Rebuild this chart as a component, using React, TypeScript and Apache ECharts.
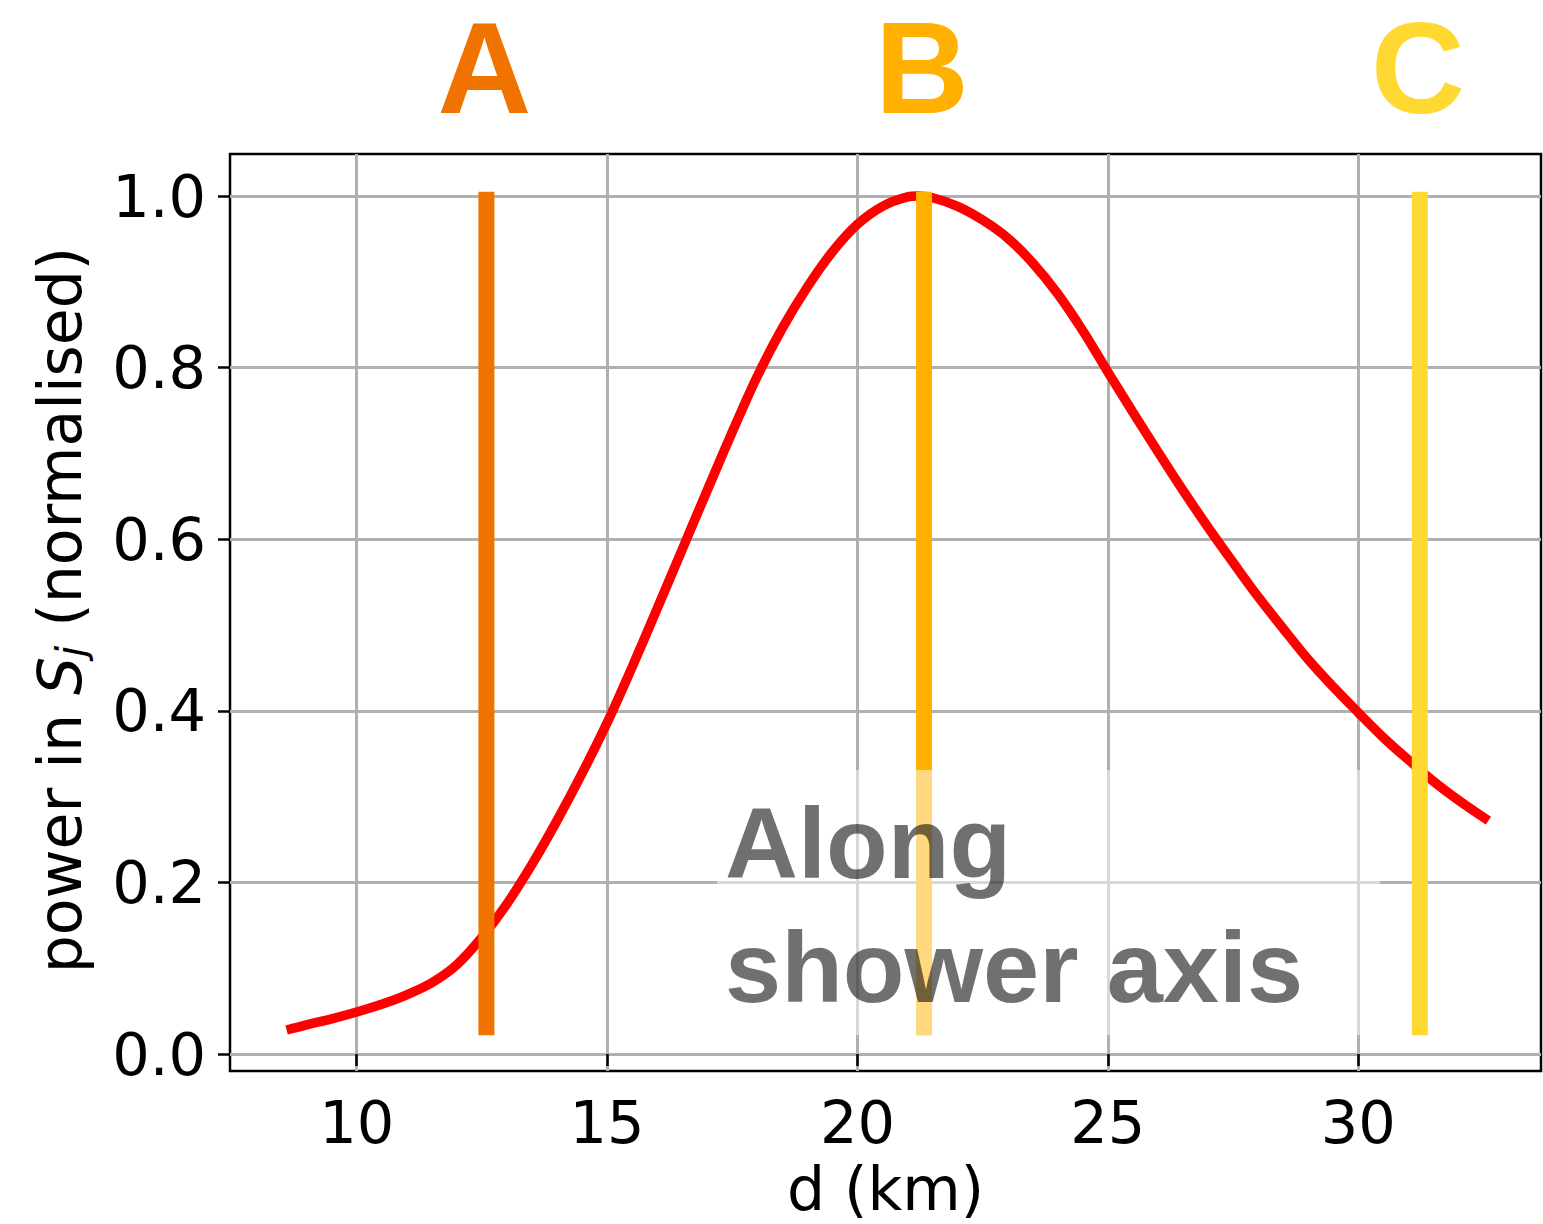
import React, { useEffect, useRef } from "react";
import * as echarts from "echarts";

// distance along shower axis (km)
const dKm = [8.6, 9, 9.5, 10, 10.5, 11, 11.5, 12, 12.5, 13, 13.5, 14, 14.5, 15, 15.5, 16, 16.5, 17, 17.5, 18, 18.5, 19, 19.5, 20, 20.5, 21, 21.2, 21.5, 22, 22.5, 23, 23.5, 24, 24.5, 25, 25.5, 26, 26.5, 27, 27.5, 28, 28.5, 29, 29.5, 30, 30.5, 31, 31.5, 32, 32.6];
const power = [0.028, 0.034, 0.041, 0.049, 0.058, 0.069, 0.083, 0.104, 0.136, 0.175, 0.221, 0.272, 0.327, 0.386, 0.451, 0.519, 0.588, 0.657, 0.725, 0.79, 0.846, 0.894, 0.935, 0.967, 0.988, 0.999, 1.0, 0.998, 0.988, 0.972, 0.951, 0.922, 0.886, 0.843, 0.795, 0.748, 0.702, 0.657, 0.614, 0.573, 0.533, 0.496, 0.46, 0.428, 0.398, 0.369, 0.343, 0.318, 0.296, 0.272];

const markerNames = ["A", "B", "C"];
const markerD = [12.59, 21.33, 31.23];
const markerColors = ["#F07300", "#FFB000", "#FFD932"];
const markerYMin = 0.022;
const markerYMax = 1.005;

const xTicks = [10, 15, 20, 25, 30];
const yTicks = [0, 0.2, 0.4, 0.6, 0.8, 1.0];
const X_MIN = 7.47;
const X_MAX = 33.65;
const Y_MIN = -0.0198;
const Y_MAX = 1.049;

export default function App() {
  const ref = useRef<HTMLDivElement>(null);
  useEffect(() => {
    if (!ref.current) return;
    const chart = echarts.init(ref.current, null, { renderer: "svg" });
    const tickFont = "DejaVu Sans";
    const series: any[] = [
      {
        type: "line",
        data: dKm.map((d, i) => [d, power[i]]),
        showSymbol: false,
        smooth: 0.35,
        lineStyle: { color: "#ff0000", width: 9.5 },
        z: 2,
      },
      ...markerD.map((d, i) => ({
        type: "line",
        data: [
          [d, markerYMin],
          [d, markerYMax],
        ],
        showSymbol: false,
        lineStyle: { color: markerColors[i], width: 16, cap: "butt" },
        z: 3,
      })),
    ];
    const baseGraphics: any[] = [
      {
        type: "text",
        x: 60,
        y: 610,
        rotation: Math.PI / 2,
        z: 50,
        style: {
          text: "{a|power in }{i|S}{s|j}{a| (normalised)}",
          textAlign: "center",
          textVerticalAlign: "middle",
          fill: "#000",
          rich: {
            a: { fontSize: 60, fontFamily: tickFont, color: "#000" },
            i: { fontSize: 60, fontFamily: tickFont, fontStyle: "italic", color: "#000" },
            s: { fontSize: 40, fontFamily: tickFont, fontStyle: "italic", color: "#000", verticalAlign: "bottom", padding: [22, 0, 0, 0] },
          },
        },
      },
      {
        type: "rect",
        z: 100,
        shape: { x: 717, y: 770, width: 663, height: 265 },
        style: { fill: "rgba(255,255,255,0.5)" },
      },
      {
        type: "text",
        z: 101,
        x: 725,
        y: 843,
        style: {
          text: "Along",
          font: "bold 101px 'Liberation Sans', Arial, sans-serif",
          fill: "#000",
          opacity: 0.56,
          textAlign: "left",
          textVerticalAlign: "middle",
        },
      },
      {
        type: "text",
        z: 101,
        x: 725,
        y: 967,
        style: {
          text: "shower axis",
          font: "bold 101px 'Liberation Sans', Arial, sans-serif",
          fill: "#000",
          opacity: 0.56,
          textAlign: "left",
          textVerticalAlign: "middle",
        },
      },
    ];
    chart.setOption({
      animation: false,
      backgroundColor: "#ffffff",
      grid: {
        left: 230,
        top: 154,
        width: 1311,
        height: 917,
        show: true,
        borderColor: "#000",
        borderWidth: 2.5,
        backgroundColor: "transparent",
        containLabel: false,
        outerBoundsMode: "none",
      },
      xAxis: {
        type: "value",
        min: X_MIN,
        max: X_MAX,
        axisLine: { show: false },
        axisTick: {
          show: true,
          customValues: xTicks,
          length: 12,
          lineStyle: { color: "#000", width: 2.5 },
        },
        axisLabel: {
          customValues: xTicks,
          fontSize: 59,
          fontFamily: tickFont,
          color: "#000",
          margin: 22,
        },
        splitLine: { show: true, lineStyle: { color: "#b0b0b0", width: 3 } },
        name: "d (km)",
        nameLocation: "middle",
        nameGap: 88,
        nameTextStyle: { fontSize: 60, fontFamily: tickFont, color: "#000" },
      },
      yAxis: {
        type: "value",
        min: Y_MIN,
        max: Y_MAX,
        axisLine: { show: false },
        axisTick: {
          show: true,
          customValues: yTicks,
          length: 12,
          lineStyle: { color: "#000", width: 2.5 },
        },
        axisLabel: {
          customValues: yTicks,
          formatter: (v: number) => v.toFixed(1),
          fontSize: 59,
          fontFamily: tickFont,
          color: "#000",
          margin: 24,
        },
        splitLine: { show: true, lineStyle: { color: "#b0b0b0", width: 3 } },
      },
      series,
      graphic: baseGraphics,
    });
    // letters above the marker lines, positioned through the axis scales
    const letters = markerD.map((d, i) => {
      const p = chart.convertToPixel({ gridIndex: 0 }, [d, markerYMax]) as number[];
      return {
        type: "text",
        z: 60,
        x: p[0] - 2,
        y: 68,
        style: {
          text: markerNames[i],
          font: "bold 130px 'Liberation Sans', Arial, sans-serif",
          lineHeight: 120,
          fill: markerColors[i],
          textAlign: "center",
          textVerticalAlign: "middle",
        },
      };
    });
    chart.setOption({ graphic: [...baseGraphics, ...letters] });
    return () => chart.dispose();
  }, []);
  return (
    <div
      ref={ref}
      style={{ position: "fixed", left: 0, top: 0, width: 1543, height: 1224, background: "#fff" }}
    />
  );
}
